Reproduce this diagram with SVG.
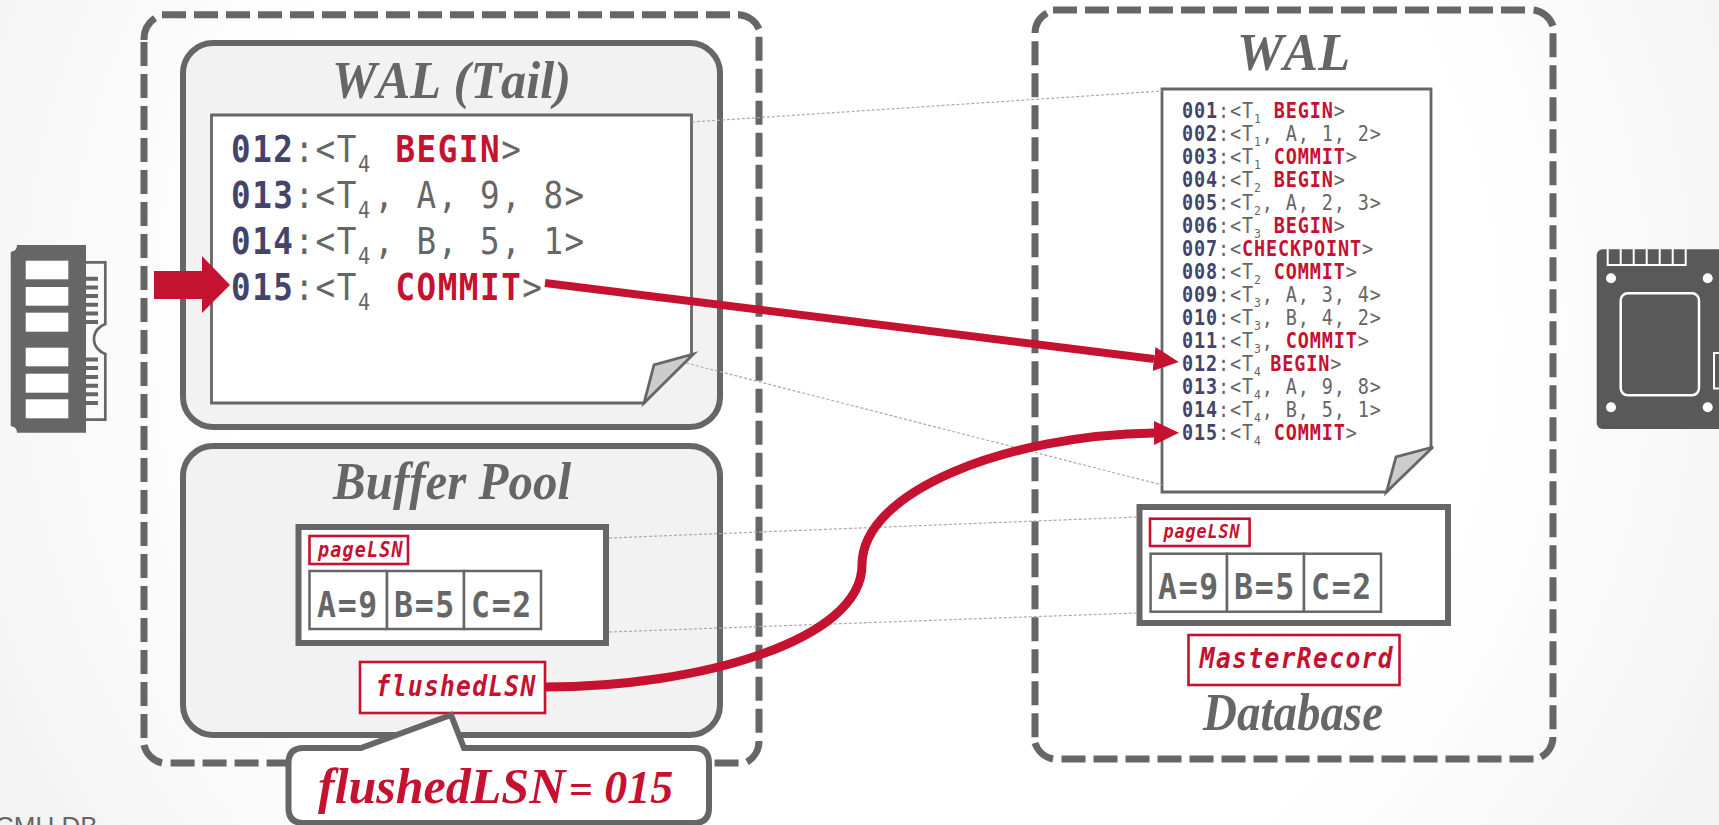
<svg xmlns="http://www.w3.org/2000/svg" width="1719" height="825" viewBox="0 0 1719 825">
<defs>
<radialGradient id="bg" gradientUnits="userSpaceOnUse" cx="860" cy="330" r="1000"><stop offset="0.62" stop-color="#ffffff"/><stop offset="1" stop-color="#f2f2f2"/></radialGradient>
<marker id="ah" markerUnits="userSpaceOnUse" markerWidth="26" markerHeight="26" refX="0" refY="12" orient="auto"><path d="M0 0L25 12L0 24Z" fill="#c41230"/></marker>
</defs>
<style>
text{white-space:pre}
.t{font-family:"Liberation Serif",serif;font-weight:bold;font-style:italic;fill:#666;font-kerning:none}
.m{font-family:"DejaVu Sans Mono",monospace;fill:#666}
.L{font-size:37px;letter-spacing:1.76px}.R{font-size:21px;letter-spacing:1px}
.n{font-weight:bold;fill:#44446a}
.k{font-weight:bold;fill:#c41230}
.s{font-size:23px}.u{font-size:13px}
.c{font-weight:bold;fill:#666;letter-spacing:1.9px}
.o{font-family:"DejaVu Sans Mono",monospace;font-weight:bold;font-style:italic;fill:#c41230}
.d{fill:none;stroke:#666;stroke-width:7;stroke-dasharray:24 8}
.a{fill:none;stroke:#666;stroke-width:7}
.p{fill:#f2f2f2;stroke:#666;stroke-width:6}
.w{fill:#fff;stroke:#666;stroke-width:6}
.pg{fill:#fff;stroke:#666;stroke-width:2.8}
.f{fill:#ccc;stroke:#666;stroke-width:2.8;stroke-linejoin:miter}
.cell{fill:#fff;stroke:#666;stroke-width:2.5}
.rb{fill:#fff;stroke:#c41230;stroke-width:2.6}
.th{fill:none;stroke:#aaa;stroke-width:1.2;stroke-dasharray:3 2}
.r{fill:none;stroke:#c41230;stroke-width:8}
.r2{fill:none;stroke:#c41230;stroke-width:9}
</style>
<rect id="background" width="1719" height="825" fill="url(#bg)"/>
<text id="footer" x="-5" y="835" font-family="'Liberation Sans',sans-serif" font-size="26" fill="#666">CMU DB</text>

<g id="ram-icon">
<path d="M17 245H86V432.7H17C17 429 15 427 10.7 426V252C15 251 17 249 17 245Z" fill="#666"/>
<path d="M86 262.3H105.3V324C100 326 94 331 94 339C94 347 100 352 105.3 354V419.7H86" fill="none" stroke="#666" stroke-width="2.7"/>
<path d="M86 278.7H98M86 287.4H98M86 296H98M86 304.7H98M86 313.4H98M86 322H98M86 359.5H98M86 368H98M86 377H98M86 385.7H98M86 394.3H98M86 403H98" stroke="#666" stroke-width="4" fill="none"/>
<g fill="#fff"><rect x="25.7" y="260.7" width="42.6" height="18.6"/><rect x="25.7" y="287" width="42.6" height="18.7"/><rect x="25.7" y="312.7" width="42.6" height="19"/><rect x="25.7" y="347.7" width="42.6" height="18.6"/><rect x="25.7" y="373.7" width="42.6" height="19"/><rect x="25.7" y="399.3" width="42.6" height="19"/></g>
</g>

<g id="memory-box">
<path class="d" d="M162 14.7H740M759 36.7V740M144 42V745M170.6 763H740"/>
<path class="a" d="M144 40A26 26 0 0 1 155 18M739 14.7A24 24 0 0 1 759 29M759 741A24 24 0 0 1 747 762M144 745A24 24 0 0 0 162 763"/>
</g>

<g id="disk-box">
<path class="d" d="M1053 10H1530M1553 33.3V733M1035 41.3V740M1061.5 759H1536"/>
<path class="a" d="M1035 33A24 24 0 0 1 1047 13M1533.6 10A24 24 0 0 1 1553 26M1553 737A24 24 0 0 1 1541 757M1035 743A24 24 0 0 0 1053 759"/>
</g>

<g id="wal-tail">
<rect class="p" x="183" y="43" width="537" height="384" rx="30"/>
<text class="t" x="332" y="98" font-size="52" textLength="239" lengthAdjust="spacingAndGlyphs">WAL (Tail)</text>
<path class="pg" d="M211.5 115H691.5V354L644 403H211.5Z"/>
<path class="f" d="M644 403L654 365L693.5 354Z"/>
<g class="m L">
<text transform="translate(231 162) scale(.88 1)"><tspan class="n">012</tspan>:&lt;T<tspan class="s" dy="10">4</tspan><tspan dy="-10" dx="3"> </tspan><tspan class="k">BEGIN</tspan>&gt;</text>
<text transform="translate(231 208) scale(.88 1)"><tspan class="n">013</tspan>:&lt;T<tspan class="s" dy="10">4</tspan><tspan dy="-10" dx="3">, A, 9, 8&gt;</tspan></text>
<text transform="translate(231 254) scale(.88 1)"><tspan class="n">014</tspan>:&lt;T<tspan class="s" dy="10">4</tspan><tspan dy="-10" dx="3">, B, 5, 1&gt;</tspan></text>
<text transform="translate(231 300) scale(.88 1)"><tspan class="n">015</tspan>:&lt;T<tspan class="s" dy="10">4</tspan><tspan dy="-10" dx="3"> </tspan><tspan class="k">COMMIT</tspan>&gt;</text>
</g>
</g>

<g id="buffer-pool">
<rect class="p" x="183" y="446" width="537" height="289" rx="30"/>
<text class="t" x="333" y="499" font-size="52" textLength="238" lengthAdjust="spacingAndGlyphs">Buffer Pool</text>
<rect class="w" x="298.5" y="527" width="307.5" height="116"/>
<rect class="rb" x="309.5" y="536" width="98.5" height="28"/>
<text class="o" transform="translate(318 557) scale(.88 1)" font-size="21" letter-spacing="1.3">pageLSN</text>
<rect class="cell" x="309.5" y="571" width="77.5" height="58"/><rect class="cell" x="387" y="571" width="77" height="58"/><rect class="cell" x="464" y="571" width="77" height="58"/>
<g class="m c" font-size="35"><text transform="translate(317 617) scale(.9 1)">A=9</text><text transform="translate(394 617) scale(.9 1)">B=5</text><text transform="translate(471 617) scale(.9 1)">C=2</text></g>
</g>

<g id="wal-disk">
<text class="t" x="1237" y="70" font-size="52" textLength="113" lengthAdjust="spacingAndGlyphs">WAL</text>
<path class="pg" d="M1162 89H1431V447L1386.5 492H1162Z"/>
<path class="f" d="M1386.5 492L1396 457L1433 447Z"/>
<g class="m R">
<text transform="translate(1182 118) scale(.88 1)"><tspan class="n">001</tspan>:&lt;T<tspan class="u" dy="5">1</tspan><tspan dy="-5"> </tspan><tspan class="k">BEGIN</tspan>&gt;</text>
<text transform="translate(1182 141) scale(.88 1)"><tspan class="n">002</tspan>:&lt;T<tspan class="u" dy="5">1</tspan><tspan dy="-5">, A, 1, 2&gt;</tspan></text>
<text transform="translate(1182 164) scale(.88 1)"><tspan class="n">003</tspan>:&lt;T<tspan class="u" dy="5">1</tspan><tspan dy="-5"> </tspan><tspan class="k">COMMIT</tspan>&gt;</text>
<text transform="translate(1182 187) scale(.88 1)"><tspan class="n">004</tspan>:&lt;T<tspan class="u" dy="5">2</tspan><tspan dy="-5"> </tspan><tspan class="k">BEGIN</tspan>&gt;</text>
<text transform="translate(1182 210) scale(.88 1)"><tspan class="n">005</tspan>:&lt;T<tspan class="u" dy="5">2</tspan><tspan dy="-5">, A, 2, 3&gt;</tspan></text>
<text transform="translate(1182 233) scale(.88 1)"><tspan class="n">006</tspan>:&lt;T<tspan class="u" dy="5">3</tspan><tspan dy="-5"> </tspan><tspan class="k">BEGIN</tspan>&gt;</text>
<text transform="translate(1182 256) scale(.88 1)"><tspan class="n">007</tspan>:&lt;<tspan class="k">CHECKPOINT</tspan>&gt;</text>
<text transform="translate(1182 279) scale(.88 1)"><tspan class="n">008</tspan>:&lt;T<tspan class="u" dy="5">2</tspan><tspan dy="-5"> </tspan><tspan class="k">COMMIT</tspan>&gt;</text>
<text transform="translate(1182 302) scale(.88 1)"><tspan class="n">009</tspan>:&lt;T<tspan class="u" dy="5">3</tspan><tspan dy="-5">, A, 3, 4&gt;</tspan></text>
<text transform="translate(1182 325) scale(.88 1)"><tspan class="n">010</tspan>:&lt;T<tspan class="u" dy="5">3</tspan><tspan dy="-5">, B, 4, 2&gt;</tspan></text>
<text transform="translate(1182 348) scale(.88 1)"><tspan class="n">011</tspan>:&lt;T<tspan class="u" dy="5">3</tspan><tspan dy="-5">, </tspan><tspan class="k">COMMIT</tspan>&gt;</text>
<text transform="translate(1182 371) scale(.88 1)"><tspan class="n">012</tspan>:&lt;T<tspan class="u" dy="5">4</tspan><tspan dy="-5" dx="-4"> </tspan><tspan class="k">BEGIN</tspan>&gt;</text>
<text transform="translate(1182 394) scale(.88 1)"><tspan class="n">013</tspan>:&lt;T<tspan class="u" dy="5">4</tspan><tspan dy="-5">, A, 9, 8&gt;</tspan></text>
<text transform="translate(1182 417) scale(.88 1)"><tspan class="n">014</tspan>:&lt;T<tspan class="u" dy="5">4</tspan><tspan dy="-5">, B, 5, 1&gt;</tspan></text>
<text transform="translate(1182 440) scale(.88 1)"><tspan class="n">015</tspan>:&lt;T<tspan class="u" dy="5">4</tspan><tspan dy="-5"> </tspan><tspan class="k">COMMIT</tspan>&gt;</text>
</g>
</g>

<g id="database-page">
<rect class="w" x="1139.5" y="507" width="308.5" height="116"/>
<rect class="rb" x="1150" y="518.7" width="99.6" height="27.3"/>
<text class="o" transform="translate(1163.5 538) scale(.88 1)" font-size="19" letter-spacing="1.06">pageLSN</text>
<rect class="cell" x="1150.6" y="553.7" width="76.4" height="58"/><rect class="cell" x="1227" y="553.7" width="77" height="58"/><rect class="cell" x="1304" y="553.7" width="77" height="58"/>
<g class="m c" font-size="35"><text transform="translate(1158 599) scale(.9 1)">A=9</text><text transform="translate(1234 599) scale(.9 1)">B=5</text><text transform="translate(1311 599) scale(.9 1)">C=2</text></g>
</g>

<g id="master-record">
<rect class="rb" x="1188.5" y="635" width="211" height="50"/>
<text class="o" transform="translate(1199.7 667.7) scale(.88 1)" font-size="28" letter-spacing="1.55">MasterRecord</text>
</g>
<text id="database-label" class="t" x="1203" y="730" font-size="52" textLength="180" lengthAdjust="spacingAndGlyphs">Database</text>

<g id="connectors">
<path class="th" d="M692 122L1162 91M686 363L1162 485M609 538L1137 517M609 632L1136 613"/>
<path d="M154 271H202V256L230 285L202 313V299H154Z" fill="#c41230"/>
<path class="r" d="M545 283L1154 359" marker-end="url(#ah)"/>
<path class="r2" d="M545 687C700 687 862 640 862 565C862 490 1010 435 1154 433" marker-end="url(#ah)"/>
</g>

<g id="flushed-lsn">
<rect class="rb" x="360" y="662" width="185" height="51"/>
<text class="o" transform="translate(375.6 696) scale(.88 1)" font-size="28" letter-spacing="1.44">flushedLSN</text>
</g>

<g id="callout">
<path class="w" d="M361 748L451 715L464 748H694Q709 748 709 763V808Q709 823 694 823H303.5Q288.5 823 288.5 808V763Q288.5 748 303.5 748Z"/>
<text x="318" y="803" font-family="'Liberation Serif',serif" font-weight="bold" font-style="italic" font-size="50" fill="#c41230" word-spacing="-9">flushedLSN <tspan font-size="42">=</tspan> <tspan font-size="46" dx="8">015</tspan></text>
</g>

<g id="ssd-icon">
<rect x="1596.7" y="249.3" width="140" height="179.7" rx="6" fill="#595959"/>
<path d="M1607.7 249V265H1685.7V249M1620.7 249V264M1633.7 249V264M1646.7 249V264M1659.7 249V264M1672.7 249V264" fill="none" stroke="#fff" stroke-width="2"/>
<g fill="#fff"><circle cx="1611" cy="278.3" r="5"/><circle cx="1707.7" cy="278.3" r="5"/><circle cx="1611" cy="407.3" r="5"/><circle cx="1707.7" cy="407.3" r="5"/></g>
<rect x="1620.7" y="293.3" width="78.3" height="102" rx="7" fill="none" stroke="#fff" stroke-width="2.5"/>
<rect x="1714" y="353" width="20" height="35.5" fill="none" stroke="#fff" stroke-width="2"/>
</g>
</svg>
